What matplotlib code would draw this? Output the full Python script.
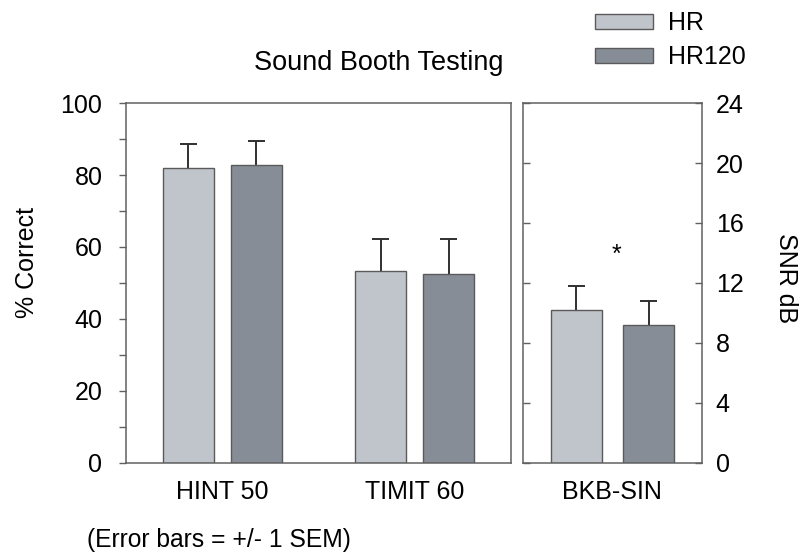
import matplotlib
matplotlib.use("agg")
import matplotlib.pyplot as plt
from matplotlib.patches import Patch
from matplotlib.ticker import MultipleLocator

plt.rcParams["font.family"] = ["Liberation Sans", "DejaVu Sans"]

# data
left_tests = ["HINT 50", "TIMIT 60"]
hr_pct = [81.9, 53.4]
hr_pct_err = [6.8, 8.7]
hr120_pct = [82.7, 52.4]
hr120_pct_err = [6.7, 9.7]

right_tests = ["BKB-SIN"]
hr_snr = [10.2]
hr_snr_err = [1.6]
hr120_snr = [9.2]
hr120_snr_err = [1.6]

series_names = ["HR", "HR120"]
light = "#c0c4cb"
dark = "#878d96"
edge = "#5a5a5a"
spine_col = "#606060"
err_col = "#303030"
fs = 18

fig = plt.figure(figsize=(8.04, 5.55), dpi=100)
ax1 = fig.add_axes([0.1567, 0.1658, 0.4789, 0.6486])
ax2 = fig.add_axes([0.6501, 0.1658, 0.2230, 0.6486])

w = 0.264
cap = 0.044  # half width of the error bar cap


def draw_pair(ax, xs, off, a, a_err, b, b_err):
    for shift, vals, errs, col in ((-off, a, a_err, light), (off, b, b_err, dark)):
        xp = [x + shift for x in xs]
        tops = [v + e for v, e in zip(vals, errs)]
        ax.bar(xp, vals, w, color=col, edgecolor=edge, linewidth=1, zorder=2)
        # upper half of the error bar only
        ax.vlines(xp, vals, tops, color=err_col, linewidth=1.4, zorder=1)
        ax.hlines(tops, [x - cap for x in xp], [x + cap for x in xp],
                  color=err_col, linewidth=1.4, zorder=1)


x1 = list(range(len(left_tests)))
draw_pair(ax1, x1, 0.176, hr_pct, hr_pct_err, hr120_pct, hr120_pct_err)
ax1.set_xlim(-0.5, 1.5)
ax1.set_ylim(0, 100)
ax1.set_xticks(x1)
ax1.set_xticklabels(left_tests, fontsize=fs)
ax1.yaxis.set_major_locator(MultipleLocator(20))
ax1.yaxis.set_minor_locator(MultipleLocator(10))
ax1.tick_params(axis="y", which="both", direction="out", length=5, width=1,
                color=spine_col, labelsize=fs, pad=12)
ax1.tick_params(axis="x", length=0, pad=12)

x2 = list(range(len(right_tests)))
draw_pair(ax2, x2, 0.187, hr_snr, hr_snr_err, hr120_snr, hr120_snr_err)
ax2.text(0.02, 13.9, "*", ha="center", va="center", fontsize=fs)
ax2.set_xlim(-0.465, 0.464)
ax2.set_ylim(0, 24)
ax2.set_xticks(x2)
ax2.set_xticklabels(right_tests, fontsize=fs)
ax2.yaxis.tick_right()
ax2.yaxis.set_major_locator(MultipleLocator(4))
ax2.tick_params(axis="y", which="both", direction="in", length=5, width=1,
                color=spine_col, labelsize=fs, pad=10, left=True)
ax2.tick_params(axis="x", length=0, pad=12)

for ax in (ax1, ax2):
    for s in ax.spines.values():
        s.set_color(spine_col)
        s.set_linewidth(1.1)

fig.text(379 / 804, 1 - 63 / 555, "Sound Booth Testing", ha="center", va="center", fontsize=19.5)
fig.text(27 / 804, 1 - 263 / 555, "% Correct", ha="center", va="center", rotation=90, fontsize=fs)
fig.text(786 / 804, 1 - 278 / 555, "SNR dB", ha="center", va="center", rotation=-90, fontsize=fs)
fig.text(87 / 804, 1 - 540 / 555, "(Error bars = +/- 1 SEM)", ha="left", va="center", fontsize=17.7)

handles = [Patch(facecolor=light, edgecolor=edge), Patch(facecolor=dark, edgecolor=edge)]
fig.legend(handles, series_names, loc="upper left", bbox_to_anchor=(595 / 804, 1 - 11 / 555),
           frameon=False, fontsize=fs, borderpad=0, borderaxespad=0,
           handlelength=2.32, handleheight=0.55, handletextpad=0.6, labelspacing=0.42)

plt.savefig("out.png", dpi=100)
plt.close()
